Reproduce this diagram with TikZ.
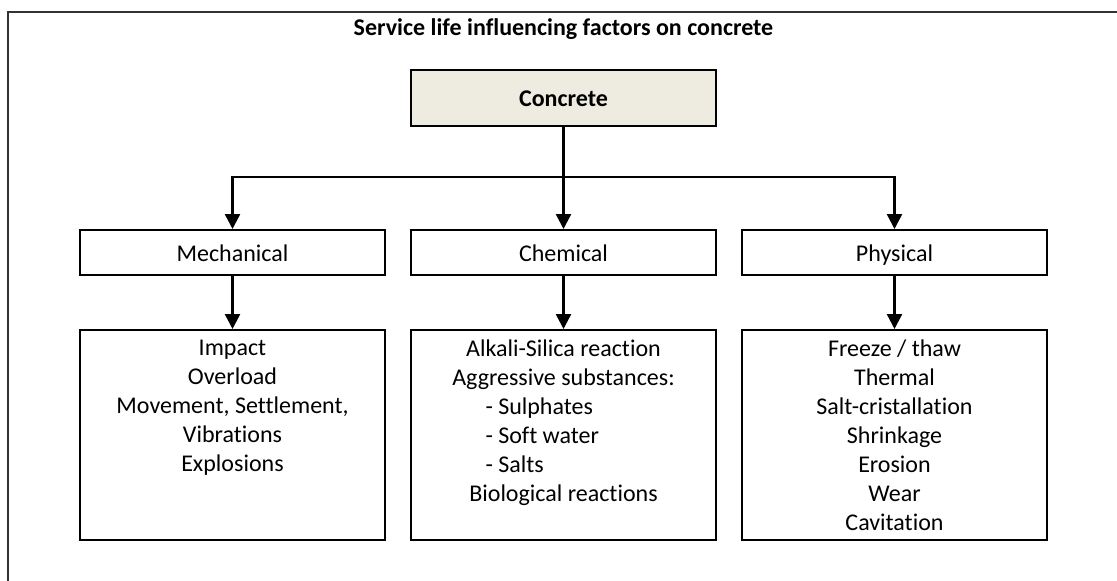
\documentclass[tikz,border=0pt]{standalone}
\usepackage{fontspec}
\setmainfont{Carlito}[Ligatures=NoCommon]
\usepackage{tikz}
\usetikzlibrary{arrows.meta}
\definecolor{concretefill}{HTML}{EEECE1}
\newcommand{\dashitem}[1]{\makebox[156pt][l]{- #1}}

\begin{document}
\begin{tikzpicture}[x=1pt,y=-1pt,>={Triangle[width=15pt,length=15pt]},line width=2.5pt,
	font=\fontsize{24}{29}\selectfont,
	head/.style={draw,line width=2pt,fill=concretefill,minimum width=305pt,minimum height=56pt,text height=20pt,text depth=3pt,font=\fontsize{24}{29}\selectfont\bfseries},
	factor/.style={draw,line width=2pt,minimum width=305pt,minimum height=45pt,text height=20pt,text depth=3pt},
	listbox/.style={draw,line width=2pt,minimum width=305pt,minimum height=210pt},
	listtext/.style={anchor=north,align=center,inner sep=0pt,execute at begin node=\strut}]
	\useasboundingbox (0,0) rectangle (1117,581);
	\draw[line width=1.5pt,black!80] (8,581) -- (8,12) -- (1117,12);
	\node[font=\fontsize{24}{29}\selectfont\bfseries] (title) at (563.5,29) {Service life influencing factors on concrete};
	\node[head] (concrete) at (563.5,98) {Concrete};
	\node[factor] (chem) [below of=concrete, node distance=154.5pt] {Chemical};
	\node[factor] (mech) [left of=chem, node distance=331pt] {Mechanical};
	\node[factor] (phys) [right of=chem, node distance=331pt] {Physical};
	\node[listbox] (mechlist) [below of=mech, node distance=182.5pt] {};
	\node[listbox] (chemlist) [below of=chem, node distance=182.5pt] {};
	\node[listbox] (physlist) [below of=phys, node distance=182.5pt] {};
	\node[listtext] (mechtext) at ([yshift=-10pt]mechlist.north) {Impact\\Overload\\Movement, Settlement,\\Vibrations\\Explosions};
	\node[listtext] (chemtext) at ([yshift=-10pt]chemlist.north) {Alkali-Silica reaction\\Aggressive substances:\\\dashitem{Sulphates}\\\dashitem{Soft water}\\\dashitem{Salts}\\Biological reactions};
	\node[listtext] (phystext) at ([yshift=-10pt]physlist.north) {Freeze / thaw\\Thermal\\Salt-cristallation\\Shrinkage\\Erosion\\Wear\\Cavitation};
	\coordinate (split) at (563.5,177);
	\draw[->] (concrete) -- (chem);
	\draw[->] (split) -| (mech.north);
	\draw[->] (split) -| (phys.north);
	\draw[->] (mech) -- (mechlist);
	\draw[->] (chem) -- (chemlist);
	\draw[->] (phys) -- (physlist);
\end{tikzpicture}
\end{document}
